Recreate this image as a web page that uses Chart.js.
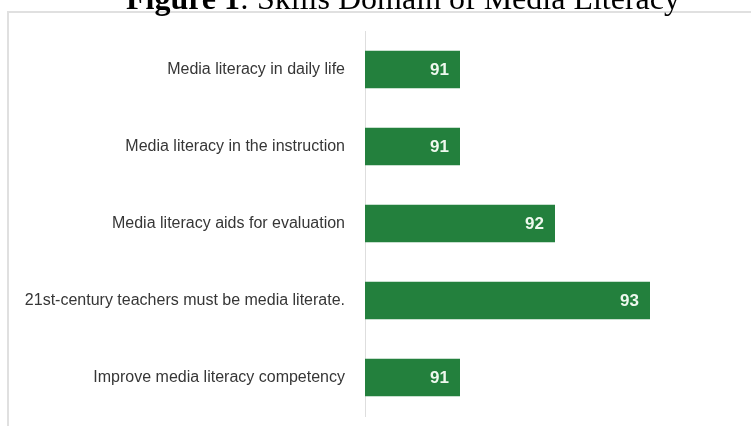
<!DOCTYPE html>
<html>
<head>
<meta charset="utf-8">
<script src="https://cdn.jsdelivr.net/npm/chart.js@4/dist/chart.umd.min.js"></script>
<style>
  html, body { margin: 0; padding: 0; background: #ffffff; }
  #wrap { position: relative; width: 751px; height: 426px; overflow: hidden; }
  #frame { position: absolute; left: 7px; top: 11px; width: 760px; height: 430px;
           border-left: 2px solid #e0e0e0; border-top: 2px solid #e0e0e0; }
  canvas { position: absolute; left: 0; top: 0; }
</style>
</head>
<body>
<div id="wrap">
  <div id="frame"></div>
  <canvas id="c" width="751" height="426"></canvas>
</div>
<script>
const titleBold = 'Figure 1';
const titleRest = ': Skills Domain of Media Literacy';
const categories = [
  'Media literacy in daily life',
  'Media literacy in the instruction',
  'Media literacy aids for evaluation',
  '21st-century teachers must be media literate.',
  'Improve media literacy competency'
];
const scores = [91, 91, 92, 93, 91];
const axisMin = 90;
const axisMax = 94;

const barGreen = '#23803d';

// Caption line at the top of the page (bold figure number, regular caption)
const titlePlugin = {
  id: 'figTitle',
  afterDraw(chart) {
    const ctx = chart.ctx;
    ctx.save();
    ctx.fillStyle = '#000000';
    ctx.textBaseline = 'alphabetic';
    ctx.textAlign = 'left';
    ctx.font = 'bold 32px "Liberation Serif"';
    const x0 = 126;
    ctx.fillText(titleBold, x0, 9);
    const w = ctx.measureText(titleBold).width;
    ctx.font = '32px "Liberation Serif"';
    ctx.fillText(titleRest, x0 + w, 9);
    ctx.restore();
  }
};

// Value labels placed inside the end of each bar
const valueLabels = {
  id: 'valueLabels',
  afterDatasetsDraw(chart) {
    const ctx = chart.ctx;
    const meta = chart.getDatasetMeta(0);
    ctx.save();
    ctx.font = 'bold 17px "Liberation Sans"';
    ctx.fillStyle = '#eef8ee';
    ctx.textAlign = 'right';
    ctx.textBaseline = 'middle';
    meta.data.forEach((bar, i) => {
      ctx.fillText(String(scores[i]), bar.x - 11, bar.y + 1);
    });
    ctx.restore();
  }
};

new Chart(document.getElementById('c'), {
  type: 'bar',
  data: {
    labels: categories,
    datasets: [{
      data: scores,
      backgroundColor: barGreen,
      borderWidth: 0,
      barPercentage: 0.49,
      categoryPercentage: 1.0
    }]
  },
  options: {
    indexAxis: 'y',
    responsive: false,
    animation: false,
    devicePixelRatio: 1,
    layout: { padding: { left: 0, right: 6, top: 31, bottom: 10 } },
    plugins: { legend: { display: false }, tooltip: { enabled: false }, title: { display: false } },
    scales: {
      x: {
        min: axisMin,
        max: axisMax,
        display: false
      },
      y: {
        grid: { display: false },
        border: { display: true, color: '#dedede', width: 1 },
        ticks: {
          color: '#363636',
          padding: 12,
          font: { family: '"Liberation Sans", Arial', size: 16 }
        },
        afterFit(scale) {
          scale.width = 365;
          scale.paddingTop = 0;
          scale.paddingBottom = 0;
        }
      }
    }
  },
  plugins: [titlePlugin, valueLabels]
});
</script>
</body>
</html>
